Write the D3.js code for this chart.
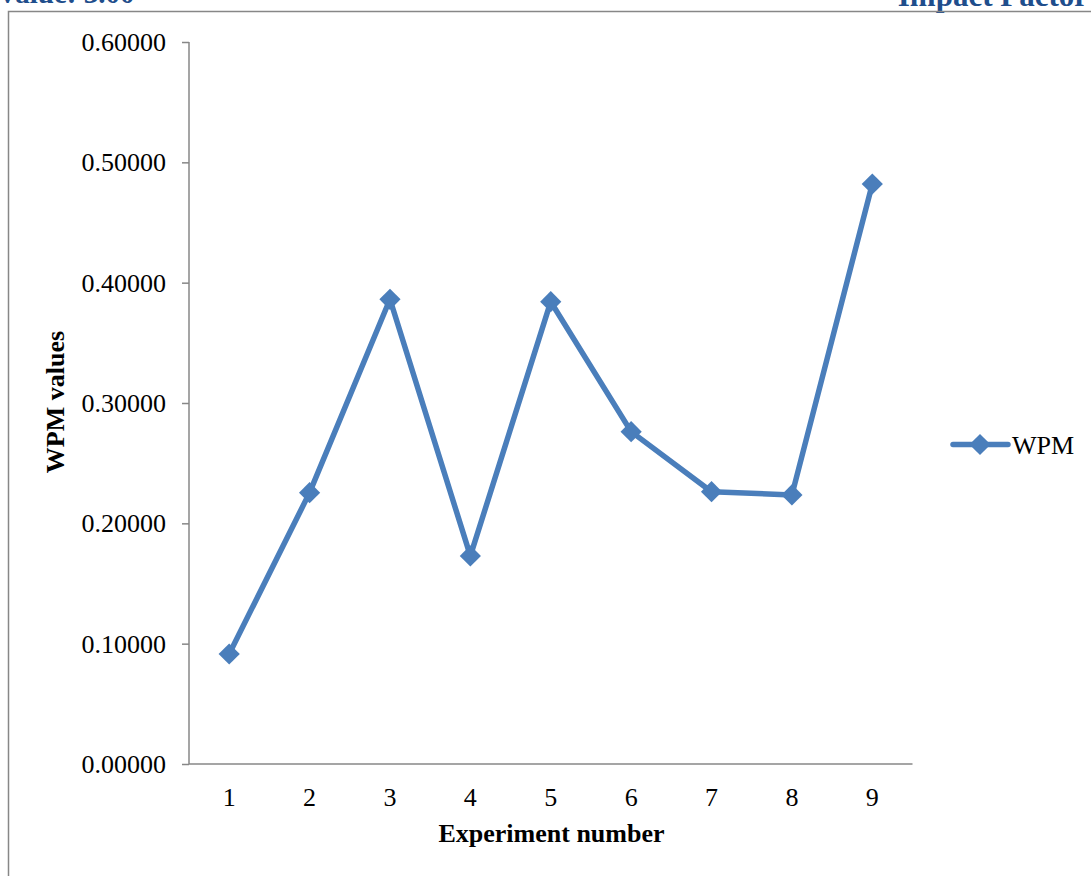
<!DOCTYPE html>
<html>
<head>
<meta charset="utf-8">
<script src="https://cdn.jsdelivr.net/npm/d3@7"></script>
<style>
  html, body { margin: 0; padding: 0; background: #fff; }
  svg { display: block; }
  text { font-family: "Liberation Serif", "Times New Roman", serif; }
</style>
</head>
<body>
<svg id="chart" width="1091" height="876"></svg>
<script>
// ---- data ----
const categories = ["1", "2", "3", "4", "5", "6", "7", "8", "9"];
const wpmValues = [0.0914, 0.2255, 0.3862, 0.1729, 0.3842, 0.2762, 0.2263, 0.2236, 0.4820];
const yTicks = [0, 0.1, 0.2, 0.3, 0.4, 0.5, 0.6];
const seriesName = "WPM";
const xTitle = "Experiment number";
const yTitle = "WPM values";
const headerLeft = "Value: 3.00";
const headerRight = "Impact Factor";

// ---- layout ----
const W = 1091, H = 876;
const plot = { left: 189, right: 912.5, top: 42, bottom: 764 };
const axisColor = "#878787";
const lineColor = "#4a7ebb";
const markerColor = "#4a7ebb";

const svg = d3.select("#chart");

// page header fragments (cut off at top, as in the source page)
svg.append("text").attr("x", -3).attr("y", 3)
  .attr("font-size", 29).attr("font-weight", "bold").attr("fill", "#1f4e8c")
  .text(headerLeft);
svg.append("text").attr("x", 1088).attr("y", 6).attr("text-anchor", "end")
  .attr("font-size", 31).attr("font-weight", "bold").attr("fill", "#1f4e8c")
  .text(headerRight);

// chart frame
svg.append("path")
  .attr("d", `M8.5,${H} L8.5,11.5 L${W},11.5`)
  .attr("fill", "none").attr("stroke", axisColor).attr("stroke-width", 1.5);

// scales
const x = d3.scaleBand().domain(categories).range([plot.left, plot.right]).padding(0);
const y = d3.scaleLinear().domain([0, 0.6]).range([plot.bottom, plot.top]);

// y axis
const yAxis = svg.append("g")
  .attr("transform", `translate(${plot.left},0)`)
  .call(d3.axisLeft(y).tickValues(yTicks).tickSize(7).tickPadding(16).tickFormat(d3.format(".5f")));
yAxis.selectAll("path.domain").remove();
yAxis.selectAll(".tick line").attr("stroke", axisColor).attr("stroke-width", 1.5);
yAxis.selectAll(".tick text").attr("font-size", 26)
  .attr("font-family", '"Liberation Serif", "Times New Roman", serif').attr("fill", "#000").attr("dy", "0.33em");
svg.append("line").attr("x1", plot.left).attr("x2", plot.left)
  .attr("y1", plot.top).attr("y2", plot.bottom)
  .attr("stroke", axisColor).attr("stroke-width", 1.5);

// x axis
const xAxis = svg.append("g")
  .attr("transform", `translate(0,${plot.bottom})`)
  .call(d3.axisBottom(x).tickSize(0));
xAxis.selectAll("path.domain").remove();
xAxis.selectAll(".tick text").attr("font-size", 26)
  .attr("font-family", '"Liberation Serif", "Times New Roman", serif').attr("fill", "#000")
  .attr("y", 42).attr("dy", null);
svg.append("line").attr("x1", plot.left).attr("x2", plot.right)
  .attr("y1", plot.bottom).attr("y2", plot.bottom)
  .attr("stroke", axisColor).attr("stroke-width", 1.5);

// axis titles
svg.append("text").attr("x", 551.5).attr("y", 842).attr("text-anchor", "middle")
  .attr("font-size", 26).attr("font-weight", "bold").text(xTitle);
svg.append("text").attr("transform", "translate(64,402) rotate(-90)")
  .attr("text-anchor", "middle").attr("font-size", 26).attr("font-weight", "bold").text(yTitle);

// series
const cx = d => x(d.c) + x.bandwidth() / 2;
const pts = categories.map((c, i) => ({ c, v: wpmValues[i] }));
svg.append("path")
  .datum(pts)
  .attr("d", d3.line().x(cx).y(d => y(d.v)))
  .attr("fill", "none").attr("stroke", lineColor).attr("stroke-width", 5.5)
  .attr("stroke-linejoin", "round").attr("stroke-linecap", "round");

const diamond = d3.symbol().type(d3.symbolSquare).size(225);
svg.append("g").selectAll("path")
  .data(pts).join("path")
  .attr("d", diamond)
  .attr("transform", d => `translate(${cx(d)},${y(d.v)}) rotate(45)`)
  .attr("fill", markerColor);

// legend
const lg = svg.append("g");
lg.append("line").attr("x1", 953).attr("x2", 1008).attr("y1", 444.5).attr("y2", 444.5)
  .attr("stroke", lineColor).attr("stroke-width", 5.5).attr("stroke-linecap", "round");
lg.append("path").attr("d", diamond).attr("transform", "translate(980,444.5) rotate(45)").attr("fill", markerColor);
lg.append("text").attr("x", 1012).attr("y", 454).attr("font-size", 26).text(seriesName);
</script>
</body>
</html>
